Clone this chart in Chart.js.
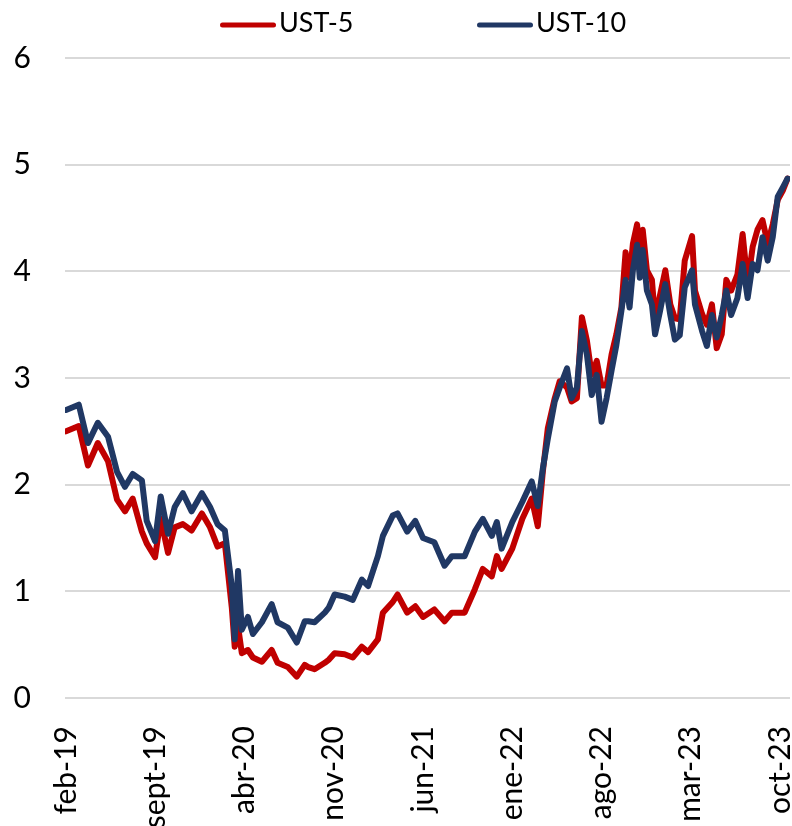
<!DOCTYPE html>
<html>
<head>
<meta charset="utf-8">
<script src="https://cdn.jsdelivr.net/npm/chart.js@4.4.0/dist/chart.umd.min.js"></script>
<style>
  html, body { margin: 0; padding: 0; background: #fff; }
</style>
</head>
<body>
<canvas id="myChart" width="792" height="826"></canvas>
<script>
// fechas de muestra
const fechas = [
  "2019-02-01", "2019-03-01", "2019-03-23", "2019-04-16", "2019-05-10", "2019-06-01",
  "2019-06-20", "2019-07-08", "2019-07-30", "2019-08-11", "2019-08-31", "2019-09-14",
  "2019-10-01", "2019-10-17", "2019-11-06", "2019-11-27", "2019-12-21", "2020-01-10",
  "2020-01-28", "2020-02-15", "2020-03-01", "2020-03-08", "2020-03-16", "2020-03-25",
  "2020-04-09", "2020-04-21", "2020-05-12", "2020-06-05", "2020-06-19", "2020-07-13",
  "2020-08-04", "2020-08-23", "2020-09-01", "2020-09-16", "2020-10-10", "2020-10-20",
  "2020-11-03", "2020-11-27",
  "2020-12-16", "2021-01-07", "2021-01-22", "2021-02-15", "2021-02-27", "2021-03-20",
  "2021-04-01", "2021-04-24", "2021-05-13", "2021-06-01", "2021-06-28", "2021-07-22",
  "2021-08-09", "2021-09-09", "2021-10-03", "2021-10-22", "2021-11-13", "2021-11-25",
  "2021-12-06", "2022-01-01", "2022-01-25", "2022-02-17", "2022-03-01", "2022-03-13",
  "2022-03-25", "2022-04-11", "2022-04-23", "2022-05-10", "2022-05-21", "2022-06-03",
  "2022-06-15", "2022-06-27", "2022-07-08", "2022-07-20", "2022-08-01", "2022-08-13",
  "2022-08-25", "2022-09-06", "2022-09-18", "2022-09-28", "2022-10-07", "2022-10-15",
  "2022-10-25", "2022-11-01", "2022-11-08", "2022-11-18", "2022-11-30", "2022-12-07",
  "2022-12-19", "2023-01-01", "2023-01-13", "2023-01-24", "2023-02-05", "2023-02-17",
  "2023-03-04", "2023-03-11", "2023-03-28", "2023-04-09", "2023-04-21", "2023-05-02",
  "2023-05-14", "2023-05-25", "2023-06-06", "2023-06-21", "2023-07-03", "2023-07-15",
  "2023-07-27", "2023-08-08", "2023-08-20", "2023-09-02", "2023-09-14", "2023-09-26",
  "2023-10-08", "2023-10-19"
];

const ust5 = [
  2.50, 2.55, 2.18, 2.39, 2.22, 1.86,
  1.75, 1.87, 1.56, 1.45, 1.32, 1.68,
  1.36, 1.60, 1.63, 1.57, 1.73, 1.60,
  1.42, 1.45, 0.85, 0.48, 0.67, 0.42,
  0.45, 0.38, 0.34, 0.45, 0.33, 0.29,
  0.20, 0.31, 0.29, 0.27, 0.33, 0.36,
  0.42, 0.41,
  0.38, 0.48, 0.43, 0.55, 0.80, 0.90,
  0.97, 0.80, 0.86, 0.76, 0.83, 0.72,
  0.80, 0.80, 1.02, 1.21, 1.14, 1.33,
  1.21, 1.40, 1.68, 1.87, 1.61, 2.12,
  2.53, 2.81, 2.97, 2.91, 2.78, 2.81,
  3.57, 3.35, 3.03, 3.16, 2.93, 2.93,
  3.22, 3.41, 3.66, 4.18, 3.94, 4.26,
  4.44, 4.16, 4.39, 4.01, 3.92, 3.55,
  3.78, 4.01, 3.69, 3.56, 3.55, 4.10,
  4.33, 3.82, 3.60, 3.50, 3.69, 3.28,
  3.41, 3.92, 3.82, 3.97, 4.35, 3.88,
  4.23, 4.39, 4.48, 4.26, 4.44, 4.67,
  4.76, 4.87
];

const ust10 = [
  2.70, 2.75, 2.39, 2.58, 2.45, 2.12,
  1.98, 2.10, 2.04, 1.66, 1.47, 1.89,
  1.54, 1.79, 1.92, 1.75, 1.92, 1.79,
  1.63, 1.57, 1.05, 0.55, 1.19, 0.64,
  0.76, 0.60, 0.71, 0.88, 0.71, 0.66,
  0.52, 0.72, 0.72, 0.71, 0.80, 0.85,
  0.97, 0.95,
  0.92, 1.11, 1.05, 1.33, 1.52, 1.71,
  1.73, 1.56, 1.66, 1.50, 1.46, 1.24,
  1.33, 1.33, 1.56, 1.68, 1.52, 1.65,
  1.40, 1.65, 1.84, 2.03, 1.80, 2.15,
  2.43, 2.78, 2.91, 3.09, 2.81, 2.91,
  3.44, 3.22, 2.84, 3.03, 2.59, 2.81,
  3.07, 3.31, 3.63, 3.92, 3.66, 4.01,
  4.25, 3.94, 4.20, 3.82, 3.69, 3.41,
  3.63, 3.88, 3.59, 3.36, 3.40, 3.85,
  4.01, 3.69, 3.44, 3.30, 3.59, 3.38,
  3.59, 3.82, 3.59, 3.75, 4.07, 3.75,
  4.07, 4.01, 4.32, 4.10, 4.32, 4.70,
  4.79, 4.87
];

// etiquetas del eje x (cada 7 meses desde feb-19)
const etiquetas = ["feb-19", "sept-19", "abr-20", "nov-20", "jun-21", "ene-22", "ago-22", "mar-23", "oct-23"];
const mesesEtiqueta = [0, 7, 14, 21, 28, 35, 42, 49, 56];

// meses transcurridos desde el 1 de febrero de 2019
function aMes(f) {
  const [a, m, d] = f.split("-").map(Number);
  return (a - 2019) * 12 + (m - 2) + (d - 1) / 30.5;
}

const fuente = "Lato";

// leyenda con linea corta, como en el original
const leyenda = {
  id: "leyenda",
  afterDraw(chart) {
    const c = chart.ctx;
    const items = [chart.data.datasets[1], chart.data.datasets[0]];
    const inicio = [220, 477];
    c.save();
    c.font = "27px " + fuente;
    c.textBaseline = "middle";
    items.forEach((ds, i) => {
      c.strokeStyle = ds.borderColor;
      c.lineWidth = 5;
      c.lineCap = "round";
      c.beginPath();
      c.moveTo(inicio[i] + 2.5, 25);
      c.lineTo(inicio[i] + 53.5, 25);
      c.stroke();
      c.fillStyle = "#000";
      c.fillText(ds.label, inicio[i] + 59, 23);
    });
    c.restore();
  },
};

function serie(valores) {
  return fechas.map((f, i) => ({ x: aMes(f), y: valores[i] }));
}

const ctx = document.querySelector("#myChart").getContext("2d");
new Chart(ctx, {
  type: "line",
  data: {
    datasets: [
      {
        label: "UST-10",
        data: serie(ust10),
        borderColor: "#203864",
        backgroundColor: "#203864",
      },
      {
        label: "UST-5",
        data: serie(ust5),
        borderColor: "#C00000",
        backgroundColor: "#C00000",
      },
    ],
  },
  options: {
    responsive: false,
    animation: false,
    layout: { padding: { top: 58, right: 2, left: 0, bottom: 0 } },
    plugins: {
      legend: { display: false },
      tooltip: { enabled: false },
    },
    elements: {
      point: { radius: 0 },
      line: { tension: 0, borderWidth: 6, borderJoinStyle: "round", borderCapStyle: "round" },
    },
    scales: {
      x: {
        type: "linear",
        min: -0.08,
        max: 56.78,
        grid: { display: false },
        border: { display: false },
        afterBuildTicks(s) {
          s.ticks = mesesEtiqueta.map((v) => ({ value: v }));
        },
        afterFit(s) {
          s.height = 128;
          s.paddingLeft = 0;
          s.paddingRight = 0;
        },
        ticks: {
          autoSkip: false,
          maxRotation: 90,
          minRotation: 90,
          padding: 20,
          color: "#000",
          font: { family: fuente, size: 30 },
          callback(v) {
            const i = mesesEtiqueta.indexOf(v);
            return i < 0 ? "" : etiquetas[i];
          },
        },
      },
      y: {
        min: 0,
        max: 6,
        ticks: { stepSize: 1, padding: 34, color: "#000", font: { family: fuente, size: 30 } },
        grid: { color: "#d9d9d9", lineWidth: 2, drawTicks: false },
        border: { display: false },
        afterFit(s) {
          s.width = 65;
          s.paddingTop = 0;
          s.paddingBottom = 0;
        },
      },
    },
  },
  plugins: [leyenda],
});
</script>
</body>
</html>
